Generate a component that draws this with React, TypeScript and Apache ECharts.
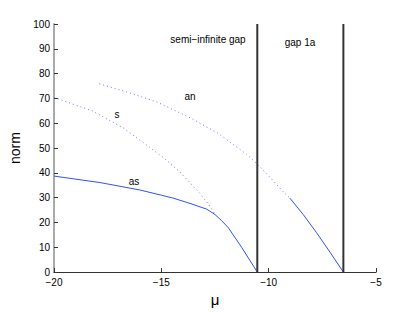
import React, { useEffect, useRef } from "react";
import * as echarts from "echarts";

const asMu = [-20, -17.86, -16, -15, -14.44, -13.67, -12.89, -12.5, -12.2, -11.88, -11.26, -10.53];
const asNorm = [38.7, 36.1, 33.1, 31.0, 29.8, 27.7, 25.4, 23.2, 20.8, 17.9, 10.0, 0];

const gapMu = [-9.01, -8.39, -7.77, -7.14, -6.52];
const gapNorm = [29.8, 23.2, 15.9, 8.0, 0];

const anMu = [-17.89, -16.46, -15.22, -13.63, -12.35, -11.03, -10.56, -10.09, -9.32, -9.01];
const anNorm = [75.9, 72.2, 68.6, 62.1, 55.9, 47.5, 43.8, 39.6, 32.4, 29.8];

const sMu = [-20, -18.2, -16.77, -15.53, -14.91, -14.13, -13.2, -12.73, -12.5];
const sNorm = [70.4, 64.9, 58.1, 50.2, 46.2, 40.3, 31.7, 26.5, 23.2];

const gapEdges = [-10.53, -6.52];

const xTicks = { min: -20, max: -5, interval: 5 };
const yTicks = { min: 0, max: 100, interval: 10 };

const zip = (a: number[], b: number[]) => a.map((v, i) => [v, b[i]]);

const FONT = "'Liberation Sans', Arial, sans-serif";

export default function App() {
  const ref = useRef<HTMLDivElement>(null);
  useEffect(() => {
    if (!ref.current) return;
    const chart = echarts.init(ref.current, null, { renderer: "svg" });
    const solid = { color: "#3050ff", width: 1 };
    const dotted = { color: "#6a7cff", width: 1, type: [1, 3] as any };
    chart.setOption({
      animation: false,
      grid: { left: 54, right: 39, top: 24, bottom: 35 },
      textStyle: { fontFamily: FONT },
      xAxis: {
        type: "value",
        min: xTicks.min,
        max: xTicks.max,
        interval: xTicks.interval,
        name: "μ",
        nameLocation: "middle",
        nameGap: 19,
        nameTextStyle: { fontSize: 15, color: "#000", fontFamily: FONT },
        axisLine: { lineStyle: { color: "#333", width: 1 } },
        axisTick: { inside: true, length: 4, lineStyle: { color: "#333" } },
        axisLabel: {
          fontSize: 10,
          color: "#000",
          margin: 5,
          formatter: (v: number) => String(v).replace("-", "\u2212"),
        },
        splitLine: { show: false },
      },
      yAxis: {
        type: "value",
        min: yTicks.min,
        max: yTicks.max,
        interval: yTicks.interval,
        name: "norm",
        nameLocation: "middle",
        nameGap: 16,
        nameTextStyle: { fontSize: 14, color: "#000", fontFamily: FONT },
        axisLine: { show: true, lineStyle: { color: "#aaa", width: 2 } },
        axisTick: { show: true, inside: true, length: 4, lineStyle: { color: "#333" } },
        axisLabel: { fontSize: 10, color: "#000", margin: 4 },
        splitLine: { show: false },
      },
      series: [
        { type: "line", data: zip(asMu, asNorm), showSymbol: false, lineStyle: solid },
        { type: "line", data: zip(gapMu, gapNorm), showSymbol: false, lineStyle: solid },
        { type: "line", data: zip(anMu, anNorm), showSymbol: false, lineStyle: dotted },
        { type: "line", data: zip(sMu, sNorm), showSymbol: false, lineStyle: dotted },
        ...gapEdges.map((x) => ({
          type: "line",
          data: [
            [x, yTicks.min],
            [x, yTicks.max],
          ],
          showSymbol: false,
          lineStyle: { color: "#333", width: 2 },
        })),
      ],
      graphic: [
        { type: "text", x: 208, y: 39, style: { text: "semi\u2212infinite gap", fontSize: 10, fontFamily: FONT, fill: "#000", align: "center", verticalAlign: "middle" } },
        { type: "text", x: 300, y: 42, style: { text: "gap 1a", fontSize: 10, fontFamily: FONT, fill: "#000", align: "center", verticalAlign: "middle" } },
        { type: "text", x: 190, y: 96, style: { text: "an", fontSize: 10, fontFamily: FONT, fill: "#000", align: "center", verticalAlign: "middle" } },
        { type: "text", x: 117, y: 114, style: { text: "s", fontSize: 10, fontFamily: FONT, fill: "#000", align: "center", verticalAlign: "middle" } },
        { type: "text", x: 134, y: 181, style: { text: "as", fontSize: 10, fontFamily: FONT, fill: "#000", align: "center", verticalAlign: "middle" } },
      ],
    });
    return () => chart.dispose();
  }, []);
  return <div ref={ref} style={{ width: 415, height: 312, position: "absolute", left: 0, top: 0, background: "#fff" }} />;
}
